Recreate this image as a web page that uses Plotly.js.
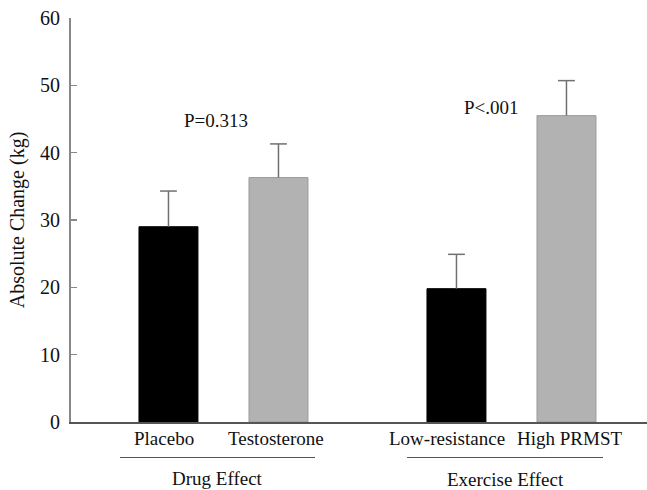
<!DOCTYPE html>
<html>
<head>
<meta charset="utf-8">
<script src="https://cdn.plot.ly/plotly-3.0.1.min.js"></script>
<style>html,body{margin:0;padding:0;background:#fff;}#chart{width:647px;height:490px;}</style>
</head>
<body>
<div id="chart"></div>
<script>
// Data
const categories = ["Placebo", "Testosterone", "Low-resistance", "High PRMST"];
const values = [29.0, 36.3, 19.8, 45.5];
const errors = [5.3, 5.0, 5.1, 5.2];
const groups = ["Drug Effect", "Exercise Effect"];
const pLabels = ["P=0.313", "P<.001"];
const yTicks = [0, 10, 20, 30, 40, 50, 60];

// Layout helpers (positions along x, in category units)
const groupGap = 0.618;
const xPos = categories.map((c, i) => i + 1 + (i >= 2 ? groupGap : 0));
const labelShift = [-4.5, -2.5, -9.5, 3.5];
const barColors = ["#000000", "#b2b2b2", "#000000", "#b2b2b2"];
const lineColors = ["#000000", "#9a9a9a", "#000000", "#9a9a9a"];
const font = "Liberation Serif";
const txt = "#111";

const bars = {
  type: "bar",
  x: xPos,
  y: values,
  width: 0.536,
  marker: {color: barColors, line: {color: lineColors, width: 1}},
  error_y: {type: "data", symmetric: false, array: errors, arrayminus: errors.map(() => 0),
            color: "#707070", thickness: 1.5, width: 0},
  hoverinfo: "none"
};
const caps = {
  type: "scatter", mode: "markers",
  x: xPos,
  y: values.map((v, i) => v + errors[i]),
  marker: {symbol: "line-ew-open", size: 12, color: "#707070", line: {color: "#707070", width: 1.5}},
  hoverinfo: "none"
};

const shapes = [];
const annotations = [];
// category labels
categories.forEach((c, i) => {
  annotations.push({xref: "x", yref: "paper", x: xPos[i], y: 0, yshift: -16, xshift: labelShift[i],
                    text: c, showarrow: false, yanchor: "middle",
                    font: {family: font, size: 19, color: txt}});
});
const lineSpans = [[-0.4405, 0.332], [-0.449, 0.332]];
const groupShift = [-56, -57];
const pY = [44.75, 46.7];
const pShift = [-7, -19.5];
[[0, 1], [2, 3]].forEach((pair, g) => {
  const x0 = xPos[pair[0]] + lineSpans[g][0], x1 = xPos[pair[1]] + lineSpans[g][1];
  shapes.push({type: "line", xref: "x", yref: "paper", x0: x0, x1: x1,
               y0: -0.0879, y1: -0.0879, line: {color: "#555", width: 1}});
  annotations.push({xref: "x", yref: "paper", x: (x0 + x1) / 2, y: 0, yshift: groupShift[g],
                    text: groups[g], showarrow: false, yanchor: "middle",
                    font: {family: font, size: 19, color: txt}});
  annotations.push({xref: "x", yref: "y", x: (xPos[pair[0]] + xPos[pair[1]]) / 2, xshift: pShift[g],
                    y: pY[g], text: pLabels[g], showarrow: false, yanchor: "middle",
                    font: {family: font, size: 19, color: txt}});
});

const layout = {
  width: 647, height: 490,
  margin: {l: 71, r: 0, t: 18, b: 68},
  paper_bgcolor: "#fff", plot_bgcolor: "#fff",
  showlegend: false,
  font: {family: font, size: 19, color: txt},
  xaxis: {
    range: [0.114, 5.35], showgrid: false, zeroline: false,
    showline: true, linecolor: "#555", linewidth: 1.5,
    showticklabels: false, ticks: ""
  },
  yaxis: {
    range: [0, 60], tickvals: yTicks, showgrid: false, zeroline: false,
    showline: true, linecolor: "#888", linewidth: 2,
    ticks: "inside", ticklen: 6, tickcolor: "#888", tickwidth: 1.5,
    ticklabelstandoff: 5,
    tickfont: {family: font, size: 20, color: txt},
    title: {text: "Absolute Change (kg)", font: {family: font, size: 20, color: txt}, standoff: 10}
  },
  shapes: shapes,
  annotations: annotations
};

Plotly.newPlot("chart", [bars, caps], layout, {staticPlot: true});
</script>
</body>
</html>
